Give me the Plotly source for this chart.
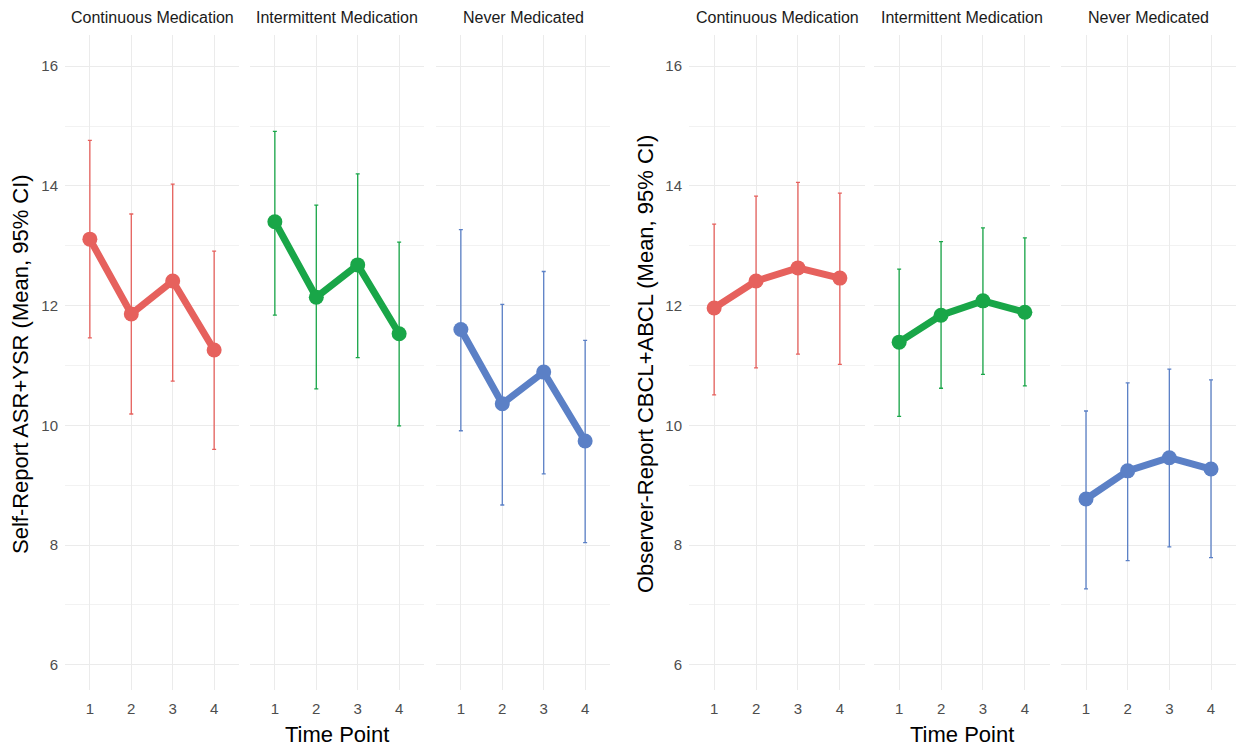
import plotly.graph_objects as go

groups = ["Continuous Medication", "Intermittent Medication", "Never Medicated"]
time_points = [1, 2, 3, 4]
colors = ["#E6615D", "#19A648", "#5B80C6"]

# Self-report (ASR+YSR): mean, lower CI, upper CI per group
self_mean = [[13.11, 11.86, 12.41, 11.26],
             [13.40, 12.14, 12.68, 11.53],
             [11.60, 10.36, 10.89, 9.74]]
self_low = [[11.46, 10.19, 10.74, 9.60],
            [11.84, 10.61, 11.13, 9.99],
            [9.91, 8.67, 9.19, 8.04]]
self_high = [[14.76, 13.53, 14.03, 12.91],
             [14.91, 13.68, 14.20, 13.06],
             [13.27, 12.02, 12.57, 11.42]]

# Observer-report (CBCL+ABCL)
obs_mean = [[11.96, 12.41, 12.63, 12.46],
            [11.39, 11.84, 12.08, 11.89],
            [8.77, 9.24, 9.46, 9.27]]
obs_low = [[10.51, 10.96, 11.19, 11.02],
           [10.15, 10.62, 10.85, 10.66],
           [7.27, 7.74, 7.97, 7.79]]
obs_high = [[13.36, 13.83, 14.06, 13.88],
            [12.61, 13.07, 13.30, 13.13],
            [10.24, 10.71, 10.94, 10.76]]

y_ticks = [6, 8, 10, 12, 14, 16]
y_titles = ["Self-Report ASR+YSR (Mean, 95% CI)", "Observer-Report CBCL+ABCL (Mean, 95% CI)"]
x_title = "Time Point"

W, H = 1240, 747
# facet pixel extents (left, right)
facets_px = [(65, 239), (250, 424), (436, 610),
             (689, 865), (874, 1050), (1061, 1236)]
top_px, bot_px = 35, 690
yrange = [5.58, 16.52]
xrange = [0.4, 4.6]

fig = go.Figure()
panels = [(self_mean, self_low, self_high), (obs_mean, obs_low, obs_high)]
font_fam = "Liberation Sans, Arial, sans-serif"

for p, (m, lo, hi) in enumerate(panels):
    for g in range(3):
        idx = p * 3 + g + 1
        xa = "x" if idx == 1 else f"x{idx}"
        ya = "y" if idx == 1 else f"y{idx}"
        fig.add_trace(go.Scatter(
            x=time_points, y=m[g], xaxis=xa, yaxis=ya,
            mode="lines+markers",
            line=dict(color=colors[g], width=7),
            marker=dict(color=colors[g], size=15),
            error_y=dict(type="data", symmetric=False,
                         array=[h - v for h, v in zip(hi[g], m[g])],
                         arrayminus=[v - l for v, l in zip(m[g], lo[g])],
                         color=colors[g], thickness=1.3, width=2),
            showlegend=False, hoverinfo="skip"))

layout = {}
for i, (l, r) in enumerate(facets_px):
    idx = i + 1
    xk = "xaxis" if idx == 1 else f"xaxis{idx}"
    yk = "yaxis" if idx == 1 else f"yaxis{idx}"
    ya_ref = "y" if idx == 1 else f"y{idx}"
    xa_ref = "x" if idx == 1 else f"x{idx}"
    layout[xk] = dict(domain=[l / W, r / W], range=xrange, anchor=ya_ref,
                      tickvals=time_points, ticktext=[str(t) for t in time_points],
                      showgrid=True, gridcolor="#EBEBEB", gridwidth=1.2,
                      zeroline=False, showline=False, ticks="",
                      tickfont=dict(family=font_fam, size=15, color="#4D4D4D"),
                      ticklabelstandoff=8)
    layout[yk] = dict(domain=[1 - bot_px / H, 1 - top_px / H], range=yrange, anchor=xa_ref,
                      tickvals=y_ticks, showgrid=True, gridcolor="#EBEBEB", gridwidth=1.2,
                      minor=dict(tickvals=[7, 9, 11, 13, 15], showgrid=True,
                                 gridcolor="#F2F2F2", gridwidth=1),
                      zeroline=False, showline=False, ticks="",
                      showticklabels=(i % 3 == 0),
                      tickfont=dict(family=font_fam, size=15, color="#4D4D4D"),
                      ticklabelstandoff=6)

annotations = []
for i, (l, r) in enumerate(facets_px):
    annotations.append(dict(text=groups[i % 3], x=(l + r) / 2 / W, y=1 - 18 / H,
                            xref="paper", yref="paper", showarrow=False,
                            font=dict(family=font_fam, size=16, color="#1A1A1A"),
                            xanchor="center", yanchor="middle"))
# x axis titles
for cx in (337, 962):
    annotations.append(dict(text=x_title, x=cx / W, y=1 - 734 / H, xref="paper", yref="paper",
                            showarrow=False, font=dict(family=font_fam, size=22, color="#000000"),
                            xanchor="center", yanchor="middle"))
# y axis titles
for cx, t in ((20, y_titles[0]), (645, y_titles[1])):
    annotations.append(dict(text=t, x=cx / W, y=1 - 364 / H, xref="paper", yref="paper",
                            showarrow=False, textangle=-90,
                            font=dict(family=font_fam, size=22, color="#000000"),
                            xanchor="center", yanchor="middle"))

fig.update_layout(width=W, height=H, margin=dict(l=0, r=0, t=0, b=0),
                  paper_bgcolor="white", plot_bgcolor="white",
                  annotations=annotations, **layout)

fig.write_html("out.html", config={"displayModeBar": False},
               post_script="document.body.style.margin='0';document.body.style.padding='0';document.body.style.overflow='hidden';")
